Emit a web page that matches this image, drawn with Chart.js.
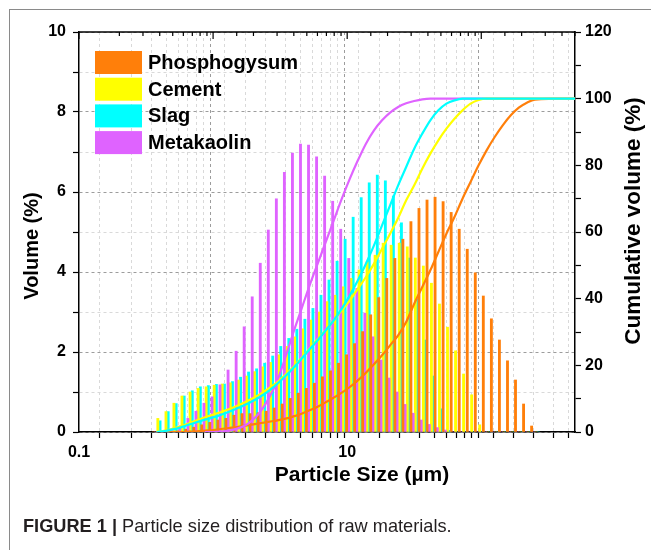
<!DOCTYPE html>
<html>
<head>
<meta charset="utf-8">
<script src="https://cdn.jsdelivr.net/npm/chart.js@4.4.1/dist/chart.umd.min.js"></script>
<style>
html,body{margin:0;padding:0;background:#fff;}
#wrap{position:relative;width:651px;height:550px;overflow:hidden;background:#fff;}
#frame{position:absolute;left:9px;top:9px;width:700px;height:600px;border-left:1px solid #8a8a8a;border-top:1px solid #8a8a8a;}
#c{position:absolute;left:0;top:0;}
#cap{position:absolute;left:23px;top:516px;font-family:"Liberation Sans",Arial,sans-serif;font-size:18.2px;color:#231f20;white-space:nowrap;}
#cap b{font-weight:bold;}
</style>
</head>
<body>
<div id="wrap">
  <div id="frame"></div>
  <canvas id="c" width="651" height="550"></canvas>
  <div id="cap"><b>FIGURE 1 |</b> Particle size distribution of raw materials.</div>
</div>
<script>
// ---------- data ----------
const seriesNames = ['Phosphogysum', 'Cement', 'Slag', 'Metakaolin'];

// particle-size bin centres (µm)
const binSizes = [0.380, 0.437, 0.501, 0.575, 0.661, 0.759, 0.871, 1.000, 1.148, 1.318,
  1.514, 1.738, 1.995, 2.291, 2.630, 3.020, 3.467, 3.981, 4.571, 5.248,
  6.026, 6.918, 7.943, 9.120, 10.47, 12.02, 13.80, 15.85, 18.20, 20.89,
  23.99, 27.54, 31.62, 36.31, 41.69, 47.86, 54.95, 63.10, 72.44, 83.18,
  95.50, 109.6, 125.9, 144.5, 166.0, 190.5, 218.8, 251.2];
// x positions of the cumulative curves (bins + end of axis)
const curveSizes = [0.380, 0.437, 0.501, 0.575, 0.661, 0.759, 0.871, 1.000, 1.148, 1.318,
  1.514, 1.738, 1.995, 2.291, 2.630, 3.020, 3.467, 3.981, 4.571, 5.248,
  6.026, 6.918, 7.943, 9.120, 10.47, 12.02, 13.80, 15.85, 18.20, 20.89,
  23.99, 27.54, 31.62, 36.31, 41.69, 47.86, 54.95, 63.10, 72.44, 83.18,
  95.50, 109.6, 125.9, 144.5, 166.0, 190.5, 218.8, 251.2, 500];

// volume (%) per bin
const phosphogysumVol = [0, 0, 0, 0.03, 0.07, 0.12, 0.18, 0.24, 0.30, 0.34,
  0.42, 0.46, 0.46, 0.48, 0.52, 0.60, 0.70, 0.84, 0.97, 1.09,
  1.22, 1.38, 1.53, 1.72, 1.93, 2.21, 2.51, 2.93, 3.36, 3.84,
  4.34, 4.82, 5.26, 5.59, 5.80, 5.87, 5.76, 5.49, 5.07, 4.57,
  3.98, 3.40, 2.83, 2.30, 1.78, 1.30, 0.70, 0.15];
const cementVol = [0.34, 0.51, 0.72, 0.90, 1.00, 1.09, 1.13, 1.17, 1.20, 1.23,
  1.30, 1.40, 1.51, 1.63, 1.74, 1.93, 2.14, 2.38, 2.58, 2.80,
  3.00, 3.26, 3.42, 3.63, 3.84, 4.05, 4.25, 4.42, 4.72, 4.67,
  4.72, 4.63, 4.35, 4.15, 3.72, 3.20, 2.62, 2.03, 1.45, 0.93,
  0.18, 0, 0, 0, 0, 0, 0, 0];
const slagVol = [0.28, 0.51, 0.71, 0.90, 1.03, 1.13, 1.16, 1.19, 1.20, 1.26,
  1.37, 1.50, 1.58, 1.72, 1.90, 2.14, 2.34, 2.57, 2.82, 3.09,
  3.42, 3.80, 4.27, 4.82, 5.37, 5.86, 6.23, 6.42, 6.28, 5.90,
  5.23, 4.35, 3.32, 2.30, 1.40, 0.58, 0.04, 0, 0, 0,
  0, 0, 0, 0, 0, 0, 0, 0];
const metakaolinVol = [0, 0, 0.05, 0.15, 0.34, 0.52, 0.72, 0.88, 1.18, 1.55,
  2.02, 2.63, 3.38, 4.22, 5.05, 5.83, 6.49, 6.97, 7.20, 7.17,
  6.88, 6.40, 5.77, 5.07, 4.34, 3.59, 2.97, 2.38, 1.80, 1.35,
  1.00, 0.69, 0.47, 0.30, 0.19, 0.11, 0.05, 0, 0, 0,
  0, 0, 0, 0, 0, 0, 0, 0];

// cumulative volume (%)
const phosphogysumCum = [null, 0, 0, 0, 0.1, 0.2, 0.4, 0.6, 0.9, 1.2,
  1.5, 1.9, 2.3, 2.7, 3.1, 3.5, 4.0, 4.7, 5.5, 6.5,
  7.6, 8.9, 10.3, 11.8, 13.5, 15.5, 17.8, 20.3, 23.0, 26.0,
  29.0, 33.0, 38.5, 43.5, 48.5, 54.0, 59.5, 64.5, 70.0, 75.0,
  80.0, 84.5, 88.5, 92.0, 95.0, 97.3, 98.8, 99.7, 100];
const cementCum = [0, 0.4, 1.0, 1.7, 2.6, 3.5, 4.4, 5.2, 6.0, 6.9,
  7.9, 9.0, 10.2, 11.6, 13.2, 15.0, 17.2, 19.6, 22.2, 25.0,
  27.8, 30.5, 33.5, 36.5, 39.5, 43.0, 46.5, 50.5, 55.0, 59.5,
  64.2, 69.5, 74.0, 79.0, 83.5, 87.5, 91.0, 94.0, 96.5, 98.5,
  99.6, 100, 100, 100, 100, 100, 100, 100, 100];
const slagCum = [0, 0.3, 0.8, 1.4, 2.2, 3.0, 3.7, 4.4, 5.2, 6.1,
  7.1, 8.2, 9.4, 10.8, 12.5, 14.5, 16.8, 19.3, 22.0, 24.8,
  27.5, 30.5, 33.5, 37.0, 41.0, 45.5, 50.5, 56.0, 62.0, 68.0,
  74.0, 79.5, 85.0, 89.5, 93.5, 96.5, 98.5, 99.5, 100, 100,
  100, 100, 100, 100, 100, 100, 100, 100, 100];
const metakaolinCum = [null, null, null, null, null, null, 0, 0, 0.1, 0.4,
  1.0, 2.0, 3.8, 6.5, 10.5, 15.5, 22.5, 30.0, 37.0, 44.0,
  50.5, 57.0, 63.5, 70.0, 76.0, 81.5, 86.5, 90.5, 93.5, 95.8,
  97.5, 98.6, 99.3, 99.8, 100, 100, 100, 100, 100, 100,
  100, 100, 100, 100, 100, 100, 100, 100, 100];

// axis ticks that carry labels
const xTickLabels = [0.1, 10];
const yLeftLabelStep = 2;
const yRightLabelStep = 20;

// ---------- styling ----------
const COL = {
  Phosphogysum: '#FF7F0A',
  Cement: '#FFFF00',
  Slag: '#00FFFF',
  Metakaolin: '#DF63FF'
};
const FONT = '"Liberation Sans", Arial, sans-serif';
const tickFont = { family: FONT, size: 16, weight: 'bold' };
const MAJOR_GRID = '#9c9c9c';
const MINOR_GRID = '#d9d9d9';

const toXY = (xs, ys) => ys.map((v, i) => ({ x: xs[i], y: v }));
const isDecade = v => Math.abs(Math.log10(v) - Math.round(Math.log10(v))) < 1e-6;

function barSet(name, vals) {
  return {
    type: 'bar', label: name, data: toXY(binSizes, vals), yAxisID: 'y', xAxisID: 'x',
    backgroundColor: COL[name], borderWidth: 0, barThickness: 2.2, order: 2
  };
}
function lineSet(name, vals) {
  return {
    type: 'line', label: name + ' cumulative', data: toXY(curveSizes, vals), yAxisID: 'y1', xAxisID: 'x',
    borderColor: COL[name], backgroundColor: COL[name], borderWidth: 2.2, pointRadius: 0,
    cubicInterpolationMode: 'monotone', fill: false, spanGaps: false, order: 1
  };
}

// legend drawn inside the plot area
const insideLegend = {
  id: 'insideLegend',
  afterDraw(chart) {
    const { ctx, chartArea } = chart;
    const x0 = chartArea.left + 16, y0 = chartArea.top + 19;
    const rowH = 26.7, boxW = 47, boxH = 23;
    ctx.save();
    ctx.font = 'bold 20px ' + FONT;
    ctx.textBaseline = 'middle';
    ctx.textAlign = 'left';
    seriesNames.forEach((name, i) => {
      const y = y0 + i * rowH;
      ctx.fillStyle = COL[name];
      ctx.fillRect(x0, y, boxW, boxH);
      ctx.fillStyle = '#000';
      ctx.fillText(name, x0 + boxW + 6, y + boxH / 2 + 1);
    });
    ctx.restore();
  }
};

// axis titles, top frame line with inward ticks
const frameAndTitles = {
  id: 'frameAndTitles',
  afterDraw(chart) {
    const { ctx, chartArea } = chart;
    const xs = chart.scales.x;
    ctx.save();
    ctx.strokeStyle = '#000';
    ctx.lineWidth = 1.5;
    ctx.beginPath();
    ctx.moveTo(chartArea.left - 0.75, chartArea.top);
    ctx.lineTo(chartArea.right + 0.75, chartArea.top);
    ctx.stroke();
    ctx.lineWidth = 1.2;
    xs.ticks.forEach(t => {
      const px = xs.getPixelForValue(t.value);
      const len = isDecade(t.value) ? 7 : 4;
      ctx.beginPath();
      ctx.moveTo(px, chartArea.top);
      ctx.lineTo(px, chartArea.top + len);
      ctx.stroke();
    });
    ctx.fillStyle = '#000';
    ctx.textAlign = 'center';
    ctx.textBaseline = 'middle';
    ctx.font = 'bold 21px ' + FONT;
    ctx.fillText('Particle Size (\u00B5m)', chartArea.left + 283, chartArea.bottom + 43);
    ctx.save();
    ctx.translate(chartArea.left - 47, chartArea.top + 214);
    ctx.rotate(-Math.PI / 2);
    ctx.font = 'bold 20px ' + FONT;
    ctx.fillText('Volume (%)', 0, 0);
    ctx.restore();
    ctx.save();
    ctx.translate(chartArea.right + 59, chartArea.top + 189);
    ctx.rotate(-Math.PI / 2);
    ctx.font = 'bold 22.5px ' + FONT;
    ctx.fillText('Cumulative volume (%)', 0, 0);
    ctx.restore();
    ctx.restore();
  }
};

new Chart(document.getElementById('c'), {
  data: {
    datasets: [
      barSet('Phosphogysum', phosphogysumVol),
      barSet('Metakaolin', metakaolinVol),
      barSet('Cement', cementVol),
      barSet('Slag', slagVol),
      lineSet('Slag', slagCum),
      lineSet('Cement', cementCum),
      lineSet('Metakaolin', metakaolinCum),
      lineSet('Phosphogysum', phosphogysumCum)
    ]
  },
  options: {
    responsive: false,
    animation: false,
    events: [],
    layout: { padding: { top: 32, left: 0, right: 0, bottom: 0 } },
    plugins: { legend: { display: false }, tooltip: { enabled: false } },
    scales: {
      x: {
        type: 'logarithmic', position: 'bottom', min: 0.1, max: 500,
        afterFit: s => { s.height = 118; },
        border: { display: true, color: '#000', width: 1.5, dash: [3, 3] },
        grid: {
          color: c => (c.tick && isDecade(c.tick.value)) ? MAJOR_GRID : MINOR_GRID,
          lineWidth: 1, tickColor: '#000', tickLength: 6, tickWidth: 1.2
        },
        ticks: {
          autoSkip: false, maxRotation: 0, minRotation: 0, padding: 5, color: '#000', font: tickFont,
          callback: v => {
            const hit = xTickLabels.find(t => Math.abs(v - t) < 1e-9 * Math.max(1, t));
            return hit !== undefined ? String(hit) : '';
          }
        }
      },
      y: {
        type: 'linear', position: 'left', min: 0, max: 10,
        afterFit: s => { s.width = 79; },
        border: { display: true, color: '#000', width: 1.5, dash: [3, 3] },
        grid: {
          color: c => (c.tick && c.tick.value % yLeftLabelStep === 0) ? MAJOR_GRID : MINOR_GRID,
          lineWidth: 1, tickColor: '#000', tickLength: 6, tickWidth: 1.2
        },
        ticks: {
          stepSize: 1, padding: 7, color: '#000', font: tickFont,
          callback: v => (v % yLeftLabelStep === 0 ? String(v) : '')
        }
      },
      y1: {
        type: 'linear', position: 'right', min: 0, max: 120,
        afterFit: s => { s.width = 76; },
        border: { display: true, color: '#000', width: 1.5 },
        grid: { drawOnChartArea: false, tickColor: '#000', tickLength: 6, tickWidth: 1.2 },
        ticks: {
          stepSize: 10, padding: 4, color: '#000', font: tickFont,
          callback: v => (v % yRightLabelStep === 0 ? String(v) : '')
        }
      }
    }
  },
  plugins: [insideLegend, frameAndTitles]
});
</script>
</body>
</html>
